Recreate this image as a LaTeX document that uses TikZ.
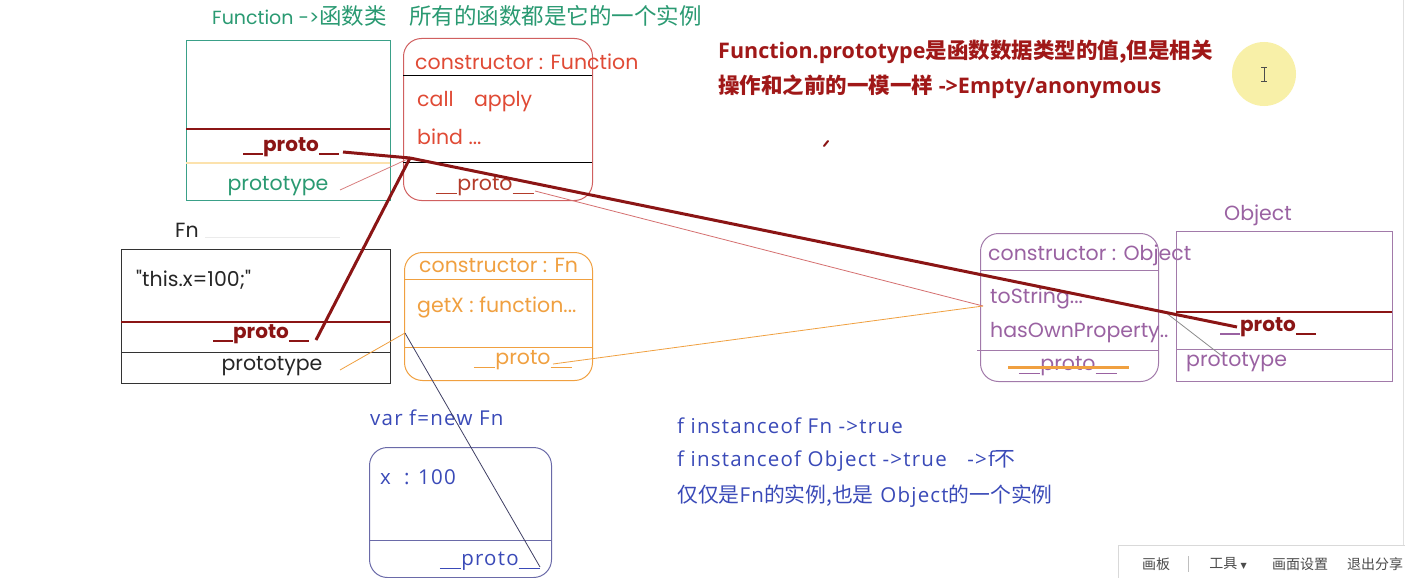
\documentclass[tikz,border=0pt]{standalone}
\usepackage{fontspec}
\setmainfont{Poppins}
\newfontfamily\cjk{Noto Sans CJK SC}
\newfontfamily\pop{Poppins}
\newfontfamily\os{Open Sans}
\newfontfamily\osw[LetterSpace=6]{Open Sans}
\newfontfamily\dvs{DejaVu Sans}
\newcommand\dus{\rule[-0.2em]{1.05em}{0.075em}}
\newcommand\dusb{\rule[-0.2em]{1.0em}{0.1em}}
\newcommand\protow{\dus proto\dus}
\newcommand\protob{\dusb proto\dusb}
\newcommand\cjknote{\cjk\fontsize{20.8}{22}\selectfont}
\definecolor{grn}{HTML}{2A9A72}
\definecolor{grnbox}{HTML}{3AA088}
\definecolor{rbox}{HTML}{D06060}
\definecolor{rtxt}{HTML}{E04A35}
\definecolor{dred}{HTML}{8B1515}
\definecolor{hred}{HTML}{A01818}
\definecolor{org}{HTML}{F0A040}
\definecolor{pur}{HTML}{A27AAA}
\definecolor{purt}{HTML}{9A62A2}
\definecolor{blu}{HTML}{3A4AB8}
\definecolor{fbox}{HTML}{6A6AA8}
\definecolor{ylw}{HTML}{F8F0A8}
\tikzset{
  box/.style={draw, rectangle, inner sep=0, anchor=north west},
  rbox/.style={box, rounded corners=18pt},
  lbl/.style={inner sep=0, anchor=west, font=\pop\fontsize{20.5}{22}\selectfont},
  clbl/.style={lbl, anchor=center},
  bproto/.style={clbl, font=\pop\bfseries\fontsize{20}{22}\selectfont, text=dred},
  cn/.style={inner sep=0, anchor=west, font=\osw\fontsize{20.5}{22}\selectfont},
  hd/.style={inner sep=0, anchor=west, font=\os\bfseries\fontsize{21.5}{24}\selectfont, text=hred},
  thick link/.style={draw=dred, line width=3pt},
  thin link/.style={line width=0.8pt},
  tb/.style={inner sep=0, font=\cjk\fontsize{14}{16}\selectfont, text=black!70}
}
\begin{document}
\begin{tikzpicture}[x=1pt,y=-1pt]
\useasboundingbox (0,0) rectangle (1405,578);
\fill[white] (0,0) rectangle (1405,578);

% title
\node[lbl, text=grn, font=\pop\fontsize{19}{22}\selectfont] (title) at (212,16) {Function ->{\cjk\fontsize{22.5}{24}\selectfont 函数类\quad 所有的函数都是它的一个实例}};

% Function box
\node[box, draw=grnbox, minimum width=204pt, minimum height=160pt, line width=1pt] (funcbox) at (186,40) {};
\draw[dred, line width=2.5pt] (186,129) -- (390,129);
\draw[ylw!70!orange!60, line width=1.5pt] (186,163) -- (390,163);
\node[bproto] (funcproto) at (291,147) {\protob};
\node[clbl, text=grn] (funcprot) at (278,186) {prototype};

% Function.prototype box
\node[rbox, draw=rbox, minimum width=189pt, minimum height=162pt, line width=1pt] (fpbox) at (403,38) {};
\draw[rbox, line width=1pt] (403,75) -- (592,75);
\draw[rbox, line width=1pt] (403,162) -- (592,162);
\node[lbl, text=rtxt] (fpctor) at (415,62) {constructor : Function};
\node[lbl, text=rtxt] (fpcall) at (417,102) {call\quad apply};
\node[lbl, text=rtxt] (fpbind) at (417,137) {bind ...};
\node[clbl, text=rtxt!80!black] (fpproto) at (485,186) {\protow};

% red heading
\node[hd] (head1) at (718,52) {Function.prototype{\cjk\bfseries 是函数数据类型的值,但是相关}};
\node[hd] (head2) at (718,87) {{\cjk\bfseries 操作和之前的一模一样} ->Empty/anonymous};
\draw[dred, line width=2pt, line cap=round] (824,146) -- (828,141);

% cursor highlight
\node[circle, fill=ylw, minimum size=64pt, inner sep=0] (cursor) at (1264,74) {};
\draw[black!70, line width=0.8pt] (1264,67) -- (1264,81) (1261,67) -- (1267,67) (1261,81) -- (1267,81);

% Fn box
\node[lbl, text=black!85] (fnlbl) at (175,230) {Fn};
\draw[black!8, line width=0.8pt] (205,237) -- (340,237);
\node[box, draw=black!80, minimum width=269pt, minimum height=134pt, line width=1pt] (fnbox) at (121,249) {};
\draw[dred, line width=2.5pt] (121,322) -- (390,322);
\draw[black!80, line width=1pt] (121,352) -- (390,352);
\node[lbl, text=black!85] (fnbody) at (136,280) {"this.x=100;"};
\node[bproto] (fnproto) at (261,334) {\protob};
\node[clbl, text=black!85] (fnprot) at (272,366) {prototype};

% Fn.prototype box
\node[rbox, draw=org, minimum width=188pt, minimum height=128pt, line width=1pt] (fnpbox) at (404,252) {};
\draw[org, line width=1pt] (404,279) -- (592,279);
\draw[org, line width=1pt] (404,347) -- (592,347);
\node[lbl, text=org] (fnpctor) at (419,265) {constructor : Fn};
\node[lbl, text=org] (fnpget) at (417,307) {getX : function...};
\node[clbl, text=org] (fnpproto) at (523,360) {\protow};

% Object.prototype box
\node[rbox, draw=pur, minimum width=178pt, minimum height=148pt, line width=1pt] (opbox) at (980,233) {};
\draw[pur, line width=1pt] (980,270) -- (1158,270);
\draw[pur, line width=1pt] (977,350) -- (1158,350);
\node[lbl, text=purt] (opctor) at (988,255) {constructor : Object};
\node[lbl, text=purt] (optostr) at (990,298) {toString...};
\node[lbl, text=purt] (ophas) at (990,333) {hasOwnProperty..};
\node[clbl, text=purt] (opproto) at (1068,366) {\protow};
\draw[org, line width=3pt] (1008,367) -- (1129,367);

% Object box
\node[clbl, text=purt] (objlbl) at (1258,215) {Object};
\node[box, draw=pur, minimum width=216pt, minimum height=150pt, line width=1pt] (objbox) at (1176,231) {};
\draw[dred, line width=2.5pt] (1176,312) -- (1392,312);
\draw[pur, line width=1pt] (1176,349) -- (1392,349);
\node[bproto] (objproto) at (1268,327) {{\color{purt}\dusb}proto\dusb};
\node[lbl, text=purt] (objprot) at (1186,362) {prototype};

% f box
\node[cn, text=blu] (flbl) at (370,418) {var f=new Fn};
\node[rbox, draw=fbox, minimum width=182pt, minimum height=130pt, line width=1pt] (fbx) at (369,447) {};
\draw[fbox, line width=1pt] (369,540) -- (551,540);
\node[cn, text=blu] (fx) at (380,477) {x\ \ : 100};
\node[cn, text=blu, anchor=center] (fproto) at (490,561) {\protow};

% blue notes
\node[cn, text=blu] (note1) at (677,426) {f instanceof Fn ->true};
\node[cn, text=blu] (note2) at (677,461) {f instanceof Object ->true\quad ->f{\cjknote 不}};
\node[cn, text=blu] (note3) at (677,496) {{\cjknote 仅仅是}Fn{\cjknote 的实例,也是} Object{\cjknote 的一个实例}};

% connector end points
\coordinate (fpjoin) at (410,158);
\coordinate (optgt) at (983,306);
\coordinate (fnptgt) at (405,333);
\coordinate (objtgt) at (1237,327);
\coordinate (funcprotoend) at (343,152);
\coordinate (fnprotoend) at (316,340);
\coordinate (funcprotend) at (340,190);
\coordinate (fpprotoend) at (535,191);
\coordinate (fnprotend) at (340,370);
\coordinate (fnpprotoend) at (553,364);
\coordinate (objprotend) at (1222,356);
\coordinate (opedge) at (1165,312);
\coordinate (fprotoend) at (540,567);

% connectors
\draw[thin link, draw=rbox!80] (funcprotend) -- (fpjoin);
\draw[thin link, draw=rbox!90] (fpprotoend) -- (optgt);
\draw[thin link, draw=org] (fnprotend) -- (fnptgt);
\draw[thin link, draw=org] (fnpprotoend) -- (optgt);
\draw[thin link, draw=black!45] (opedge) -- (objprotend);
\draw[thin link, draw=fbox!60!black] (fprotoend) -- (fnptgt);
\draw[thick link] (funcprotoend) -- (fpjoin);
\draw[thick link] (fnprotoend) -- (fpjoin);
\draw[thick link] (fpjoin) -- (objtgt);

% screen toolbar
\draw[black!12, line width=0.8pt] (1403,0) -- (1403,545);
\node[box, draw=black!15, fill=white, minimum width=290pt, minimum height=36pt] (toolbar) at (1118,545) {};
\node[tb] (tb1) at (1156,564) {画板};
\draw[black!25] (1188,556) -- (1188,572);
\node[tb] (tb2) at (1228,564) {工具 {\dvs\fontsize{8}{10}\selectfont ▼}};
\node[tb] (tb3) at (1300,564) {画面设置};
\node[tb] (tb4) at (1375,564) {退出分享};
\end{tikzpicture}
\end{document}
